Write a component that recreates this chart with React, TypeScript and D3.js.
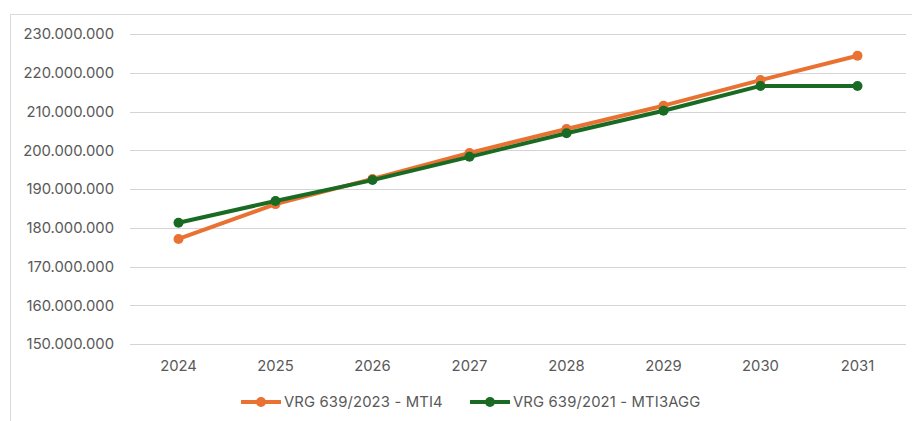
import React, { useEffect, useRef } from 'react'
import * as d3 from 'd3'

const years = ['2024', '2025', '2026', '2027', '2028', '2029', '2030', '2031']
const mti4 = [177.1, 186.1, 192.6, 199.3, 205.5, 211.5, 218.1, 224.4].map(v => v * 1e6)
const mti3agg = [181.3, 186.9, 192.3, 198.3, 204.4, 210.2, 216.6, 216.6].map(v => v * 1e6)
const yTicks = [150, 160, 170, 180, 190, 200, 210, 220, 230].map(v => v * 1e6)
const seriesNames = ['VRG 639/2023 - MTI4', 'VRG 639/2021 - MTI3AGG']

const width = 912
const height = 421
const colors = ['#E97132', '#196B24']
const font = 'Inter, "Noto Sans", sans-serif'

export default function App() {
  const ref = useRef<SVGSVGElement>(null)

  useEffect(() => {
    const svg = d3.select(ref.current)
    svg.selectAll('*').remove()

    // outer chart border
    svg.append('rect')
      .attr('x', 10.5).attr('y', 14.5)
      .attr('width', width + 10).attr('height', height + 10)
      .attr('fill', 'white').attr('stroke', '#D9D9D9')

    const x = d3.scaleBand().domain(years).range([130, 906])
    const y = d3.scaleLinear().domain([150e6, 230e6]).range([344, 34])
    const fmt = (v: number) => d3.format(',')(v).replace(/,/g, '.')

    // gridlines + y labels
    const grid = svg.append('g')
    grid.selectAll('line').data(yTicks).enter().append('line')
      .attr('x1', 130).attr('x2', 906)
      .attr('y1', d => Math.round(y(d)) + 0.5).attr('y2', d => Math.round(y(d)) + 0.5)
      .attr('stroke', '#D4D4D4').attr('stroke-width', 1)
    grid.selectAll('text').data(yTicks).enter().append('text')
      .attr('x', 114).attr('y', d => y(d))
      .attr('dy', '0.36em').attr('text-anchor', 'end')
      .attr('font-family', font).attr('font-size', 14.8)
      .attr('fill', '#595959')
      .text(d => fmt(d))

    // x labels
    svg.append('g').selectAll('text').data(years).enter().append('text')
      .attr('x', d => x(d)! + x.bandwidth() / 2).attr('y', 371)
      .attr('text-anchor', 'middle')
      .attr('font-family', font).attr('font-size', 14.8)
      .attr('fill', '#595959')
      .text(d => d)

    const line = d3.line<number>()
      .x((_, i) => x(years[i])! + x.bandwidth() / 2)
      .y(d => y(d))

    ;[mti4, mti3agg].forEach((data, s) => {
      const g = svg.append('g')
      g.append('path').datum(data)
        .attr('d', line)
        .attr('fill', 'none').attr('stroke', colors[s])
        .attr('stroke-width', 4).attr('stroke-linejoin', 'round')
      g.selectAll('circle').data(data).enter().append('circle')
        .attr('cx', (_, i) => x(years[i])! + x.bandwidth() / 2)
        .attr('cy', d => y(d)).attr('r', 5)
        .attr('fill', colors[s])
    })

    // legend
    const legendX = [241, 470]
    const legend = svg.append('g').selectAll('g').data(seriesNames).enter().append('g')
      .attr('transform', (_, i) => `translate(${legendX[i]},402)`)
    legend.append('line')
      .attr('x1', 0).attr('x2', 40).attr('y1', 0).attr('y2', 0)
      .attr('stroke', (_, i) => colors[i]).attr('stroke-width', 4)
    legend.append('circle')
      .attr('cx', 20).attr('cy', 0).attr('r', 5)
      .attr('fill', (_, i) => colors[i])
    legend.append('text')
      .attr('x', 43).attr('y', 0).attr('dy', '0.36em')
      .attr('font-family', font).attr('font-size', 14.8)
      .attr('fill', '#595959')
      .attr('letter-spacing', 0.15)
      .text(d => d)
  }, [])

  return (
    <svg ref={ref} width={width} height={height}
      style={{ position: 'absolute', left: 0, top: 0, display: 'block' }} />
  )
}
